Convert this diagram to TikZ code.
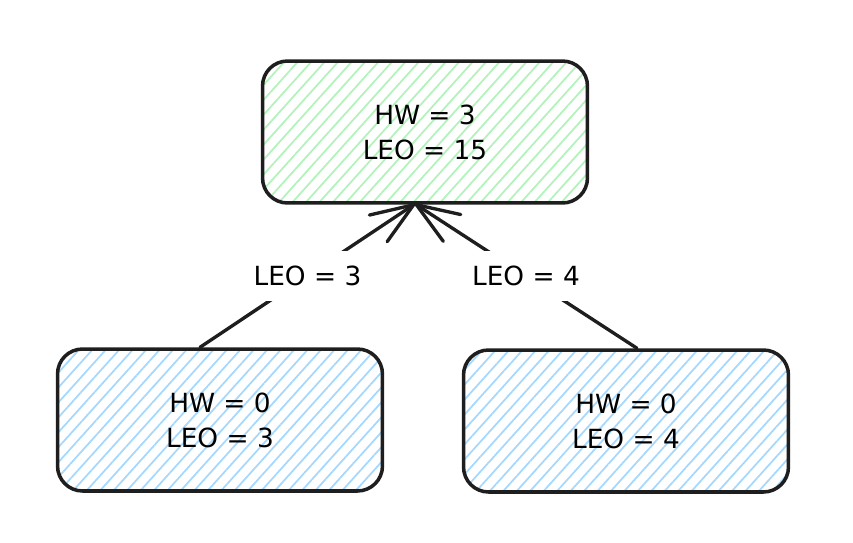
\documentclass[tikz,border=0pt]{standalone}
\usepackage{fontspec}
\setmainfont{DejaVu Sans}
\usetikzlibrary{arrows.meta,patterns.meta}
\definecolor{cInk}{RGB}{30,30,30}
\definecolor{cGreen}{RGB}{178,242,187}
\definecolor{cBlue}{RGB}{165,216,255}

\begin{document}
\begin{tikzpicture}[
  x=0.02cm, y=-0.02cm, color=cInk,
  box/.style   ={draw=cInk, line width=2pt, rounded corners=0.5cm,
                 minimum width=6.5cm, minimum height=2.84cm, align=center,
                 font=\fontsize{15}{20}\selectfont, text=black},
  hatchG/.style={pattern={Lines[angle=48,distance=0.2cm,line width=1pt]},
                 pattern color=cGreen},
  hatchB/.style={pattern={Lines[angle=48,distance=0.2cm,line width=1pt]},
                 pattern color=cBlue},
  link/.style  ={draw=cInk, line width=1.9pt, line cap=round,
                 -{Straight Barb[length=0.85cm,width=0.64cm,round]}},
  lbl/.style   ={fill=white, inner xsep=2pt, inner ysep=0.3cm,
                 font=\fontsize{15}{20}\selectfont, text=black},
]

\useasboundingbox (0,0) rectangle (853,542);

% ----- the three boxes --------------------------------------------------
\node[box,hatchG] (root)  at (425,132) {HW = 3\\ LEO = 15};
\node[box,hatchB] (leafL) at (220,420) {HW = 0\\ LEO = 3};
\node[box,hatchB] (leafR) at (626,421) {HW = 0\\ LEO = 4};

% ----- links up to the root, label sits on the line ---------------------
\draw[link] ([xshift=-0.4cm]leafL.north) -- node[lbl]{LEO = 3}
            ([xshift=-0.2cm]root.south);
\draw[link] ([xshift=0.22cm]leafR.north) -- node[lbl]{LEO = 4}
            ([xshift=-0.2cm]root.south);

\end{tikzpicture}
\end{document}
